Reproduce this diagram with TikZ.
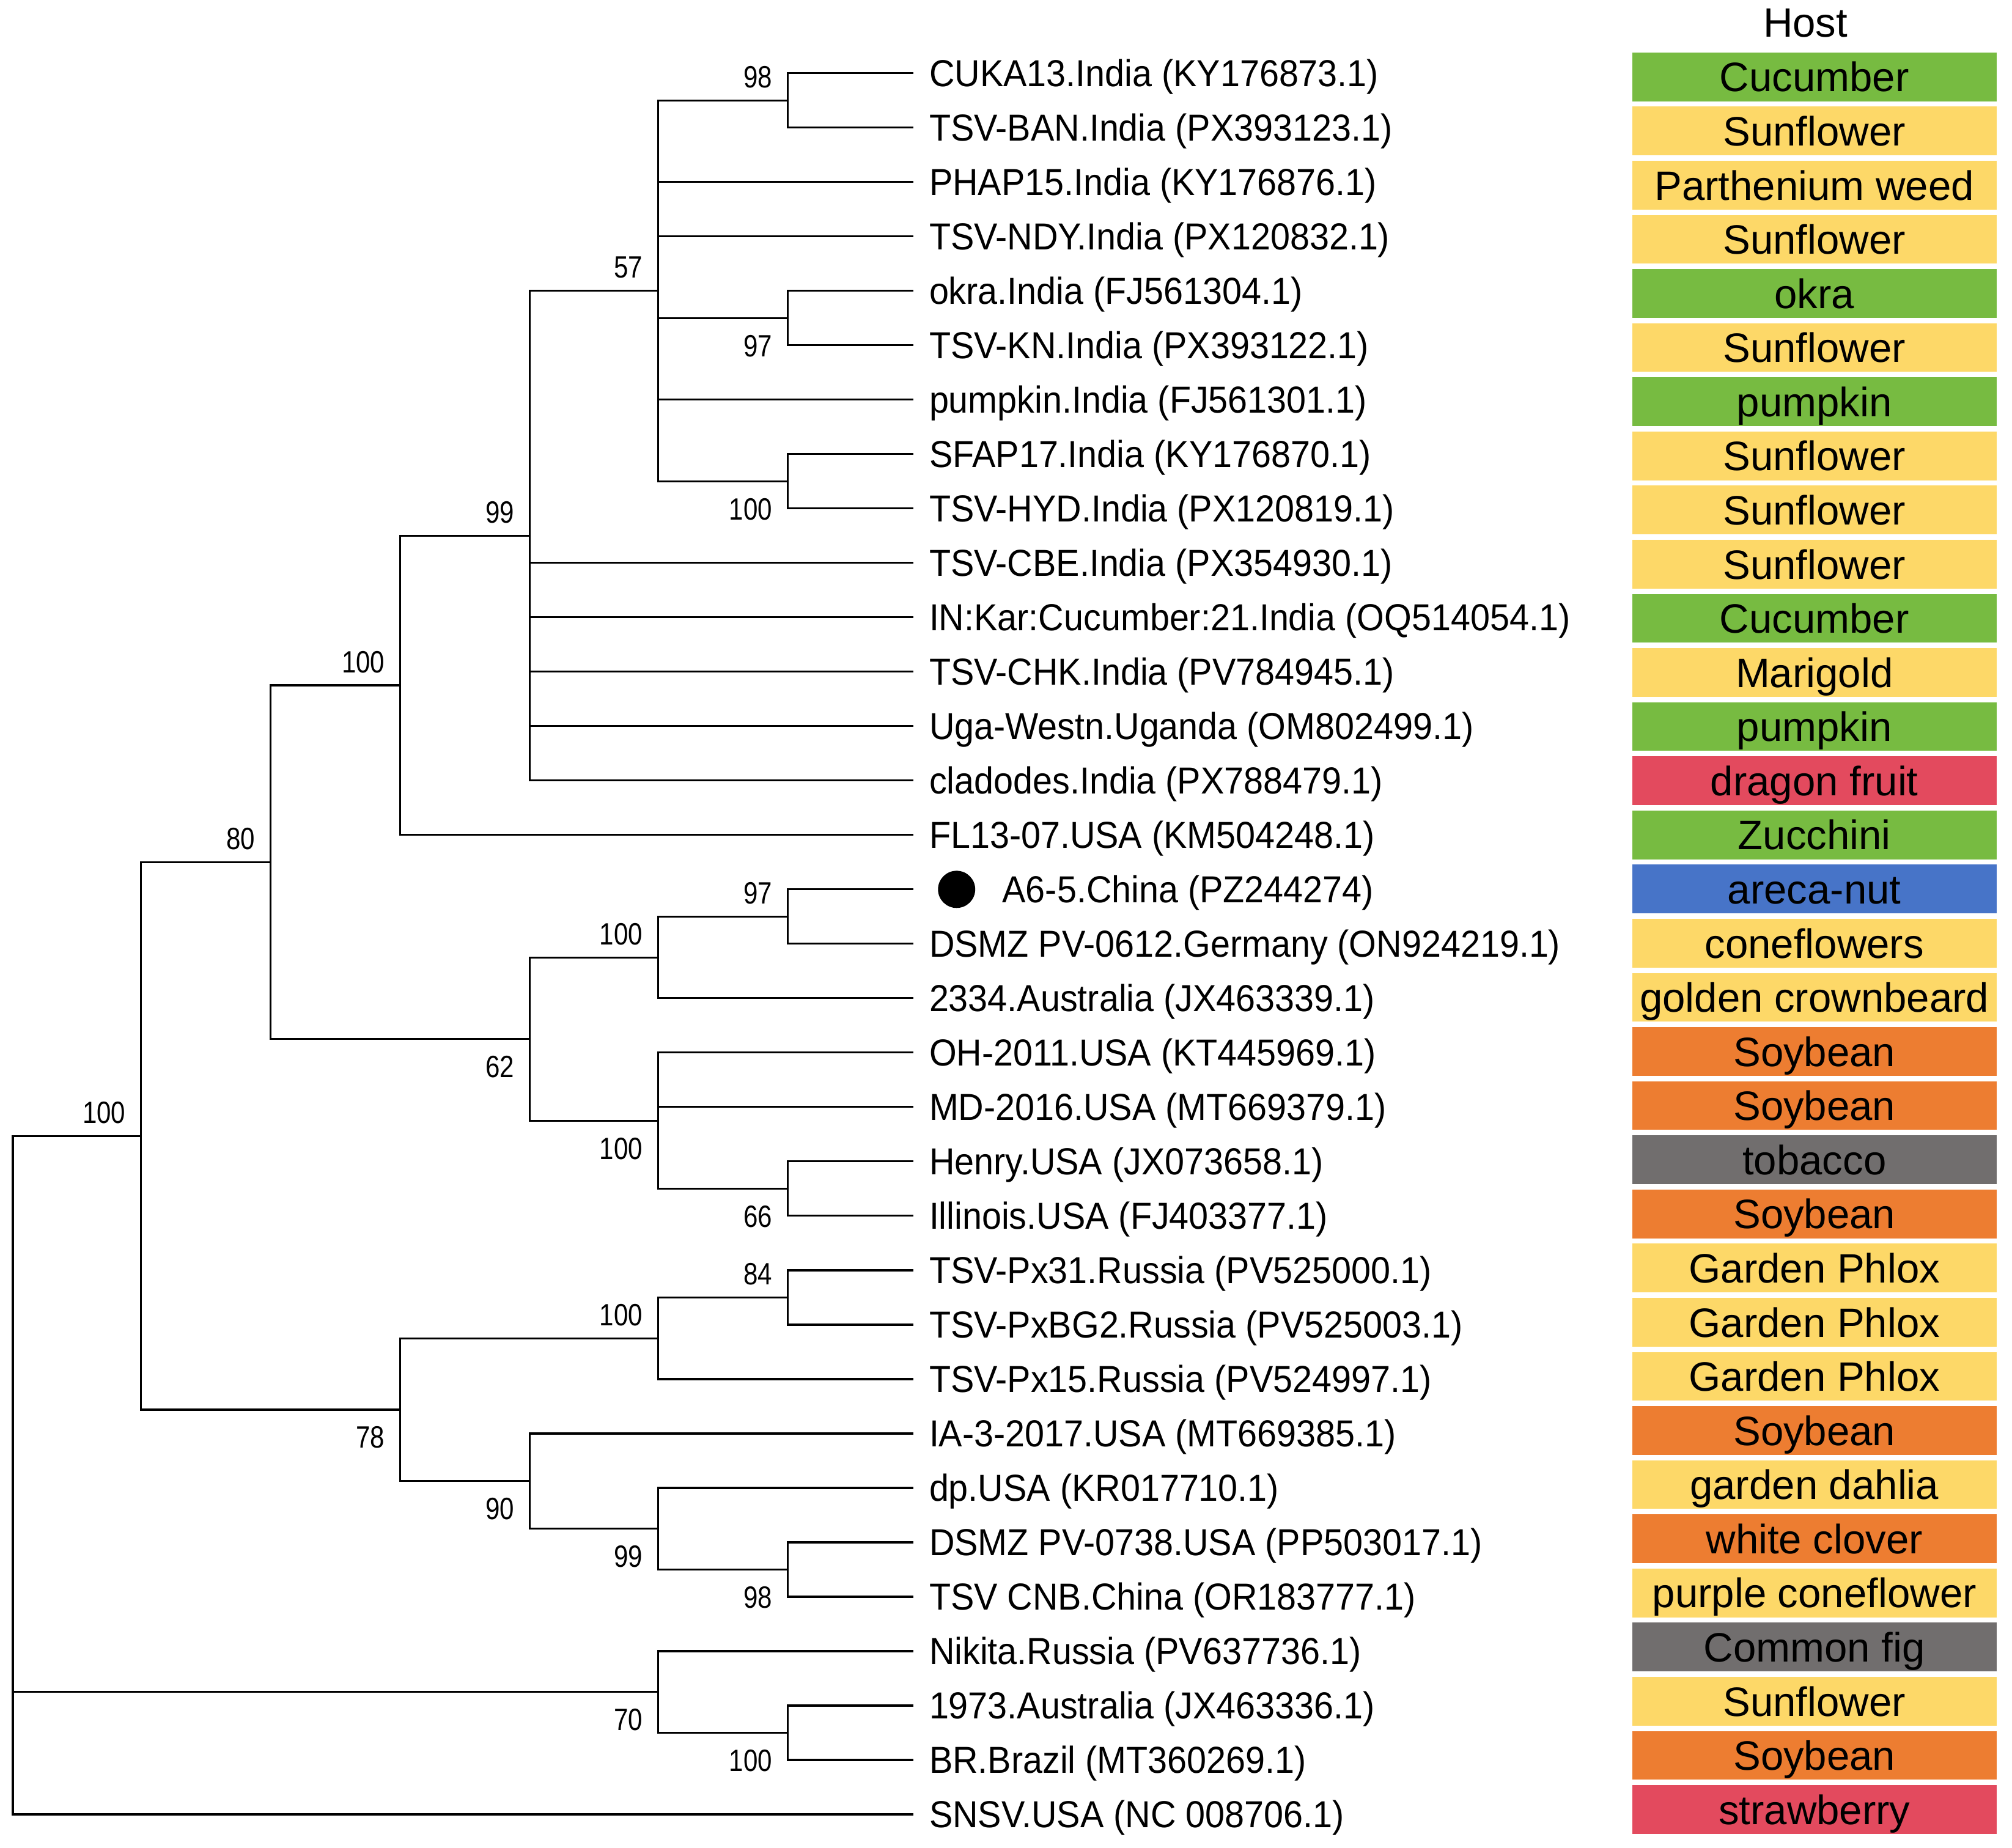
\documentclass[tikz,border=0pt]{standalone}
\usepackage{fontspec}
\setmainfont{Liberation Sans}
\newfontfamily\treefont{Liberation Sans}[FakeStretch=0.935]
\newfontfamily\bsfont{Liberation Sans}[FakeStretch=0.835]
\usetikzlibrary{calc}
\definecolor{cgreen}{RGB}{119,187,65}
\definecolor{cyellow}{RGB}{253,216,104}
\definecolor{cred}{RGB}{227,74,94}
\definecolor{cblue}{RGB}{71,116,200}
\definecolor{corange}{RGB}{237,125,49}
\definecolor{cgray}{RGB}{113,110,110}
\begin{document}
\begin{tikzpicture}[x=1pt,y=-1pt,
  branch/.style={line width=1.5pt, line join=miter},
  leaflabel/.style={anchor=base west, inner sep=0pt, yshift=-10.4pt, font=\treefont\fontsize{29.3}{32}\selectfont},
  bsa/.style={anchor=south east, inner sep=0pt, xshift=-12pt, yshift=9.5pt, font=\bsfont\fontsize{24}{27}\selectfont},
  bsb/.style={anchor=north east, inner sep=0pt, xshift=-12pt, yshift=-13pt, font=\bsfont\fontsize{24}{27}\selectfont},
  hostbox/.style={rectangle, inner sep=0pt, minimum width=284pt, minimum height=38pt, text height=23pt, text depth=0pt, font=\fontsize{32}{36}\selectfont},
  hosthead/.style={inner sep=0pt, font=\fontsize{32}{36}\selectfont}
]
\fill[white] (0,0) rectangle (1568,1440);
\useasboundingbox (0,0) rectangle (1568,1440);

% leaf tips
\foreach \i in {0,...,32} \coordinate (t\i) at (712, {57+\i*42.41});

% leaf labels
\foreach \i/\txt in {
 0/{CUKA13.India (KY176873.1)},
 1/{TSV-BAN.India (PX393123.1)},
 2/{PHAP15.India (KY176876.1)},
 3/{TSV-NDY.India (PX120832.1)},
 4/{okra.India (FJ561304.1)},
 5/{TSV-KN.India (PX393122.1)},
 6/{pumpkin.India (FJ561301.1)},
 7/{SFAP17.India (KY176870.1)},
 8/{TSV-HYD.India (PX120819.1)},
 9/{TSV-CBE.India (PX354930.1)},
 10/{IN:Kar:Cucumber:21.India (OQ514054.1)},
 11/{TSV-CHK.India (PV784945.1)},
 12/{Uga-Westn.Uganda (OM802499.1)},
 13/{cladodes.India (PX788479.1)},
 14/{FL13-07.USA (KM504248.1)},
 16/{DSMZ PV-0612.Germany (ON924219.1)},
 17/{2334.Australia (JX463339.1)},
 18/{OH-2011.USA (KT445969.1)},
 19/{MD-2016.USA (MT669379.1)},
 20/{Henry.USA (JX073658.1)},
 21/{Illinois.USA (FJ403377.1)},
 22/{TSV-Px31.Russia (PV525000.1)},
 23/{TSV-PxBG2.Russia (PV525003.1)},
 24/{TSV-Px15.Russia (PV524997.1)},
 25/{IA-3-2017.USA (MT669385.1)},
 26/{dp.USA (KR017710.1)},
 27/{DSMZ PV-0738.USA (PP503017.1)},
 28/{TSV CNB.China (OR183777.1)},
 29/{Nikita.Russia (PV637736.1)},
 30/{1973.Australia (JX463336.1)},
 31/{BR.Brazil (MT360269.1)},
 32/{SNSV.USA (NC 008706.1)}}
 \node[leaflabel] (l\i) at (724, {57+\i*42.41}) {\txt};

% highlighted isolate
\node[circle, fill=black, minimum size=29pt, inner sep=0pt] (dot) at (745.5, 693.15) {};
\node[leaflabel] (l15) at (781, 693.15) {A6-5.China (PZ244274)};

% internal nodes
\coordinate (n98a)  at (614, 78.2);
\coordinate (n97a)  at (614, 247.85);
\coordinate (n100a) at (614, 375.08);
\coordinate (n57)   at (513, 226.64);
\coordinate (n99a)  at (413, 417.49);
\coordinate (n100b) at (312, 534.1);
\coordinate (n97b)  at (614, 714.36);
\coordinate (n100c) at (513, 746.17);
\coordinate (n66)   at (614, 926.41);
\coordinate (n100d) at (513, 873.4);
\coordinate (n62)   at (413, 809.78);
\coordinate (n80)   at (211, 671.94);
\coordinate (n84)   at (614, 1011.23);
\coordinate (n100e) at (513, 1043.03);
\coordinate (n98b)  at (614, 1223.28);
\coordinate (n99b)  at (513, 1191.47);
\coordinate (n90)   at (413, 1154.36);
\coordinate (n78)   at (312, 1098.7);
\coordinate (n100f) at (110, 885.32);
\coordinate (n100g) at (614, 1350.5);
\coordinate (n70)   at (513, 1318.7);
\coordinate (root)  at (10, 1150);

% branches
\draw[branch]
 (n98a) |- (t0)  (n98a) |- (t1)
 (n97a) |- (t4)  (n97a) |- (t5)
 (n100a) |- (t7) (n100a) |- (t8)
 (n57) |- (n98a) (n57) |- (t2) (n57) |- (t3) (n57) |- (n97a) (n57) |- (t6) (n57) |- (n100a)
 (n99a) |- (n57) (n99a) |- (t9) (n99a) |- (t10) (n99a) |- (t11) (n99a) |- (t12) (n99a) |- (t13)
 (n100b) |- (n99a) (n100b) |- (t14)
 (n97b) |- (t15) (n97b) |- (t16)
 (n100c) |- (n97b) (n100c) |- (t17)
 (n66) |- (t20) (n66) |- (t21)
 (n100d) |- (t18) (n100d) |- (t19) (n100d) |- (n66)
 (n62) |- (n100c) (n62) |- (n100d)
 (n80) |- (n100b) (n80) |- (n62)
 (n84) |- (t22) (n84) |- (t23)
 (n100e) |- (n84) (n100e) |- (t24)
 (n98b) |- (t27) (n98b) |- (t28)
 (n99b) |- (t26) (n99b) |- (n98b)
 (n90) |- (t25) (n90) |- (n99b)
 (n78) |- (n100e) (n78) |- (n90)
 (n100f) |- (n80) (n100f) |- (n78)
 (n100g) |- (t30) (n100g) |- (t31)
 (n70) |- (t29) (n70) |- (n100g)
 (root) |- (n100f) (root) |- (n70) (root) |- (t32);

% bootstrap values
\node[bsa] (b98a)  at (n98a)  {98};
\node[bsb] (b97a)  at (n97a)  {97};
\node[bsb] (b100a) at (n100a) {100};
\node[bsa] (b57)   at (n57)   {57};
\node[bsa] (b99a)  at (n99a)  {99};
\node[bsa] (b100b) at (n100b) {100};
\node[bsa] (b97b)  at (n97b)  {97};
\node[bsa] (b100c) at (n100c) {100};
\node[bsb] (b66)   at (n66)   {66};
\node[bsb] (b100d) at (n100d) {100};
\node[bsb] (b62)   at (n62)   {62};
\node[bsa] (b80)   at (n80)   {80};
\node[bsa] (b84)   at (n84)   {84};
\node[bsa] (b100e) at (n100e) {100};
\node[bsb] (b98b)  at (n98b)  {98};
\node[bsb] (b99b)  at (n99b)  {99};
\node[bsb] (b90)   at (n90)   {90};
\node[bsb] (b78)   at (n78)   {78};
\node[bsa] (b100f) at (n100f) {100};
\node[bsb] (b100g) at (n100g) {100};
\node[bsb] (b70)   at (n70)   {70};

% host column
\node[hosthead] (hosthdr) at (1407, 18) {Host};
\foreach \i/\col/\txt in {
 0/cgreen/Cucumber,
 1/cyellow/Sunflower,
 2/cyellow/{Parthenium weed},
 3/cyellow/Sunflower,
 4/cgreen/okra,
 5/cyellow/Sunflower,
 6/cgreen/pumpkin,
 7/cyellow/Sunflower,
 8/cyellow/Sunflower,
 9/cyellow/Sunflower,
 10/cgreen/Cucumber,
 11/cyellow/Marigold,
 12/cgreen/pumpkin,
 13/cred/{dragon fruit},
 14/cgreen/Zucchini,
 15/cblue/areca-nut,
 16/cyellow/coneflowers,
 17/cyellow/{golden crownbeard},
 18/corange/Soybean,
 19/corange/Soybean,
 20/cgray/tobacco,
 21/corange/Soybean,
 22/cyellow/{Garden Phlox},
 23/cyellow/{Garden Phlox},
 24/cyellow/{Garden Phlox},
 25/corange/Soybean,
 26/cyellow/{garden dahlia},
 27/corange/{white clover},
 28/cyellow/{purple coneflower},
 29/cgray/{Common fig},
 30/cyellow/Sunflower,
 31/corange/Soybean,
 32/cred/strawberry}
 \node[hostbox, fill=\col] (h\i) at (1414, {59.9+\i*42.2}) {\txt};
\end{tikzpicture}
\end{document}
